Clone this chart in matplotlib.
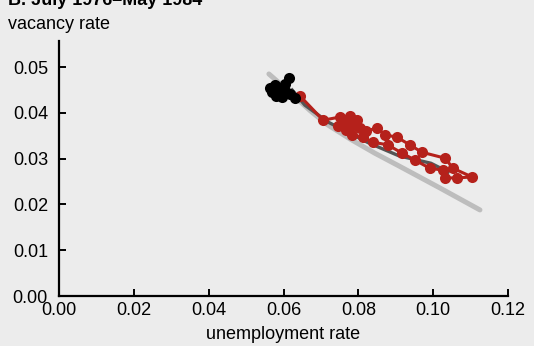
import matplotlib
matplotlib.use("Agg")
import matplotlib.pyplot as plt

# Beveridge curve reference (light gray) and fitted path (dark gray)
curve_u = [0.0561, 0.0617, 0.0671, 0.0716, 0.0778, 0.0844, 0.0911, 0.1018, 0.1125]
curve_v = [0.0485, 0.0445, 0.0405, 0.0375, 0.0343, 0.0312, 0.0283, 0.0236, 0.0188]

fit_u = [0.0623, 0.0657, 0.0719, 0.0826, 0.0909, 0.0994, 0.1040]
fit_v = [0.0450, 0.0417, 0.0380, 0.0335, 0.0306, 0.0290, 0.0271]

# early months (black)
early_u = [0.0564, 0.0577, 0.0585, 0.0569, 0.0580, 0.0591, 0.0599, 0.0604,
           0.0615, 0.0607, 0.0596, 0.0617, 0.0631]
early_v = [0.0454, 0.0461, 0.0450, 0.0445, 0.0437, 0.0439, 0.0454, 0.0463,
           0.0476, 0.0445, 0.0434, 0.0441, 0.0432]

# remaining months (red)
late_u = [0.0644, 0.0706, 0.0751, 0.0778, 0.0796, 0.0762, 0.0788, 0.0804,
          0.0767, 0.0745, 0.0820, 0.0850, 0.0871, 0.0903, 0.0938, 0.0970,
          0.1032, 0.1053, 0.1104, 0.1064, 0.1032, 0.1026, 0.0991, 0.0951,
          0.0917, 0.0879, 0.0839, 0.0812, 0.0783, 0.0770]
late_v = [0.0437, 0.0384, 0.0391, 0.0393, 0.0384, 0.0378, 0.0376, 0.0367,
          0.0362, 0.0372, 0.0360, 0.0367, 0.0352, 0.0347, 0.0330, 0.0314,
          0.0301, 0.0279, 0.0260, 0.0258, 0.0258, 0.0275, 0.0279, 0.0297,
          0.0312, 0.0330, 0.0336, 0.0347, 0.0352, 0.0368]

x_ticks = [0.00, 0.02, 0.04, 0.06, 0.08, 0.10, 0.12]
y_ticks = [0.00, 0.01, 0.02, 0.03, 0.04, 0.05]

plt.rcParams["font.family"] = ["Liberation Sans", "DejaVu Sans"]
bg = "#ececec"

fig = plt.figure(figsize=(5.34, 3.46), dpi=100, facecolor=bg)
ax = fig.add_axes([0.1105, 0.1445, 0.8408, 0.737], facecolor=bg)

ax.plot(curve_u, curve_v, color="#bdbdbd", lw=3.6, solid_capstyle="round", zorder=1)
ax.plot(fit_u, fit_v, color="#555555", lw=2.4, zorder=2)
ax.plot(late_u, late_v, color="#b5211b", lw=2.2, marker="o", ms=8,
        markeredgewidth=0, zorder=3)
ax.plot(early_u, early_v, color="black", lw=2.2, marker="o", ms=8,
        markeredgewidth=0, zorder=4)

ax.set_xlim(0, 0.12)
ax.set_ylim(0, 0.0557)
ax.set_xticks(x_ticks)
ax.set_yticks(y_ticks)
ax.set_xticklabels([f"{t:.2f}" for t in x_ticks])
ax.set_yticklabels([f"{t:.2f}" for t in y_ticks])

for side in ["top", "right"]:
    ax.spines[side].set_visible(False)
for side in ["left", "bottom"]:
    ax.spines[side].set_linewidth(1.6)
ax.tick_params(direction="in", length=5, width=1.4, labelsize=13, pad=4)
ax.tick_params(axis="y", pad=8)

ax.set_xlabel("unemployment rate", fontsize=13, labelpad=5)
fig.text(0.015, 0.916, "vacancy rate", fontsize=13, va="baseline")
fig.text(0.015, 0.986, "B. July 1976\u2013May 1984", fontsize=13,
         fontweight="bold", va="baseline")

fig.savefig("out.png", dpi=100, facecolor=bg)
